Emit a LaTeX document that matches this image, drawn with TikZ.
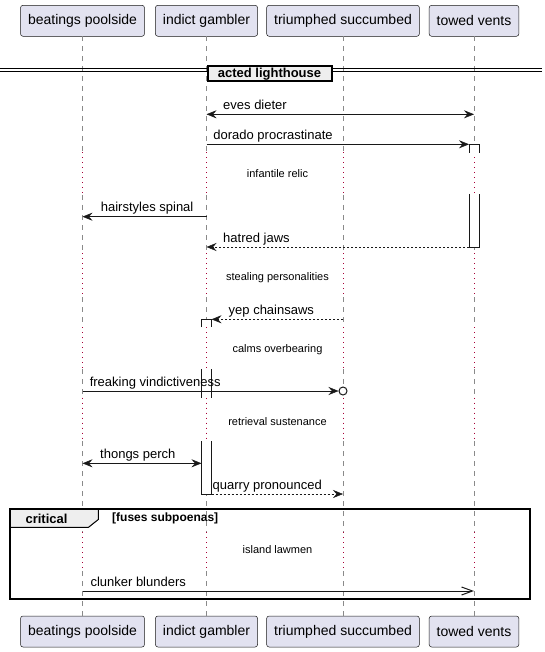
\documentclass[tikz,border=0pt]{standalone}
\usepackage{fontspec}
\setmainfont{Liberation Sans}
\usetikzlibrary{arrows.meta}

\definecolor{partfill}{HTML}{E2E2F0}
\definecolor{ink}{HTML}{181818}
\definecolor{delayred}{HTML}{A80036}
\definecolor{headfill}{HTML}{EEEEEE}
\definecolor{lifegray}{HTML}{8A8A8A}

\tikzset{
  participant/.style={draw=ink, line width=0.5pt, fill=partfill, rounded corners=2.5pt,
    font=\fontsize{14}{16}\selectfont, inner xsep=7.5pt, inner ysep=0pt,
    minimum height=31pt, text=black},
  lifeline/.style={draw=lifegray, line width=0.7pt, dash pattern=on 5pt off 5pt},
  delayline/.style={draw=delayred, line width=1pt, dash pattern=on 1pt off 4pt},
  sdhead/.tip={Stealth[length=10pt,width=8pt,inset=3.5pt,line width=0.5pt]},
  openhead/.tip={Straight Barb[length=11pt,width=8pt,line width=1pt]},
  msg/.style={draw=ink, line width=1pt, -sdhead},
  msgboth/.style={draw=ink, line width=1pt, sdhead-sdhead},
  reply/.style={msg, dash pattern=on 2pt off 2pt},
  asyncmsg/.style={draw=ink, line width=1pt, -openhead},
  msglabel/.style={font=\fontsize{13}{15}\selectfont, anchor=base west, inner sep=0pt, text=black},
  delaytext/.style={font=\fontsize{11}{13}\selectfont, inner sep=0pt, text=black},
  actbox/.style={draw=ink, line width=1pt},
  actfill/.style={fill=white},
  dividerbox/.style={draw=black, line width=2pt, fill=headfill, inner sep=0pt,
    minimum width=124pt, minimum height=15.3pt, font=\fontsize{13}{15}\selectfont\bfseries},
  divline/.style={draw=black, line width=1pt},
  groupframe/.style={draw=black, line width=2pt},
  grouptab/.style={draw=black, line width=1pt, fill=headfill},
  grouplabel/.style={font=\fontsize{13}{15}\selectfont\bfseries, inner sep=0pt},
  guardlabel/.style={font=\fontsize{12}{14}\selectfont\bfseries, inner sep=0pt, anchor=west},
  endcircle/.style={circle, draw=ink, fill=white, line width=1pt, minimum size=8pt, inner sep=0pt}
}

\begin{document}
\begin{tikzpicture}[x=1pt,y=-1pt]
\useasboundingbox (0,0) rectangle (545,652);

% participants, top and bottom
\node[participant] (top1) at (82.5,20.8) {beatings poolside};
\node[participant] (top2) at (206.5,20.8) {indict gambler};
\node[participant] (top3) at (343,20.8) {triumphed succumbed};
\node[participant] (top4) at (474,20.8) {towed vents};
\node[participant] (bot1) at (82.5,631.5) {beatings poolside};
\node[participant] (bot2) at (206.5,631.5) {indict gambler};
\node[participant] (bot3) at (343,631.5) {triumphed succumbed};
\node[participant] (bot4) at (474,631.5) {towed vents};

% lifelines: dashed, dotted red inside the delay bands
\foreach \i in {1,...,4}{
  \foreach \ya/\yb in {36.3/152.5, 195/253, 297/327, 369/397.5, 441/532, 571/616}
    \draw[lifeline] (top\i.south |- 0,\ya) -- (top\i.south |- 0,\yb);
  \foreach \ya/\yb in {152.5/195, 253/297, 327/369, 397.5/441, 532/571}
    \draw[delayline] (top\i.south |- 0,\ya) -- (top\i.south |- 0,\yb);
}

% activation on towed vents
\fill[actfill] (469,144.3) rectangle (479,152.7);
\draw[actbox] (469,152.7) -- (469,144.3) -- (479,144.3) -- (479,152.7);
\fill[actfill] (469,194) rectangle (479,247);
\draw[actbox] (469,194) -- (469,247) -- (479,247) -- (479,194);

% activation on indict gambler
\fill[actfill] (201.5,319.3) rectangle (211.5,327);
\draw[actbox] (201.5,327) -- (201.5,319.3) -- (211.5,319.3) -- (211.5,327);
\fill[actfill] (201.5,369) rectangle (211.5,397.5);
\draw[actbox] (201.5,369) -- (201.5,397.5);
\draw[actbox] (211.5,369) -- (211.5,397.5);
\fill[actfill] (201.5,441) rectangle (211.5,494);
\draw[actbox] (201.5,441) -- (201.5,494) -- (211.5,494) -- (211.5,441);

% divider
\coordinate (dl1a) at (0,69);   \coordinate (dl1b) at (542,69);
\coordinate (dl2a) at (0,72);   \coordinate (dl2b) at (542,72);
\draw[divline] (dl1a) -- (dl1b);
\draw[divline] (dl2a) -- (dl2b);
\node[dividerbox] (div) at (269.5,73.7) {acted lighthouse};

% critical group
\draw[grouptab] (9.7,509.3) -- (98.3,509.3) -- (98.3,519.5) -- (88.5,527.3) -- (9.7,527.3) -- cycle;
\draw[groupframe] (9.7,509.3) rectangle (529.5,599.3);
\node[grouplabel] (crit) at (46.5,518.6) {critical};
\node[guardlabel] (guard) at (112,518.8) {[fuses subpoenas]};

% message end points
\coordinate (e1a) at (top2.south |- 0,114.3);
\coordinate (e1b) at (top4.south |- 0,114.3);
\coordinate (e2a) at (top2.south |- 0,144.3);
\coordinate (e2b) at (469,144.3);
\coordinate (e3a) at (top2.south |- 0,216.7);
\coordinate (e3b) at (top1.south |- 0,216.7);
\coordinate (e4a) at (469,247);
\coordinate (e4b) at (top2.south |- 0,247);
\coordinate (e5a) at (top3.south |- 0,319.3);
\coordinate (e5b) at (211.5,319.3);
\coordinate (e6a) at (top1.south |- 0,391);
\node[endcircle] (c6) at (top3.south |- 0,391) {};
\coordinate (e7a) at (top1.south |- 0,463.3);
\coordinate (e7b) at (201.5,463.3);
\coordinate (e8a) at (211.5,494);
\coordinate (e8b) at (top3.south |- 0,494);
\coordinate (e9a) at (top1.south |- 0,591);
\coordinate (e9b) at (top4.south |- 0,591);

% messages
\draw[msgboth] (e1a) -- (e1b);
\draw[msg] (e2a) -- (e2b);
\draw[msg] (e3a) -- (e3b);
\draw[reply] (e4a) -- (e4b);
\draw[reply] (e5a) -- (e5b);
\draw[msg] (e6a) -- (c6.west);
\draw[msgboth] (e7a) -- (e7b);
\draw[reply] (e8a) -- (e8b);
\draw[asyncmsg] (e9a) -- (e9b);

% message labels
\node[msglabel] (t1) at (223,109.3) {eves dieter};
\node[msglabel] (t2) at (213.2,139.4) {dorado procrastinate};
\node[msglabel] (t3) at (100.7,211.8) {hairstyles spinal};
\node[msglabel] (t4) at (223,242.2) {hatred jaws};
\node[msglabel] (t5) at (228.5,314.4) {yep chainsaws};
\node[msglabel] (t6) at (89.6,386.2) {freaking vindictiveness};
\node[msglabel] (t7) at (100,458.4) {thongs perch};
\node[msglabel] (t8) at (212.5,489) {quarry pronounced};
\node[msglabel] (t9) at (90.3,586.2) {clunker blunders};

% delay captions
\node[delaytext] (dly1) at (277.5,174) {infantile relic};
\node[delaytext] (dly2) at (277.5,277.3) {stealing personalities};
\node[delaytext] (dly3) at (277.5,349.3) {calms overbearing};
\node[delaytext] (dly4) at (277.5,421.3) {retrieval sustenance};
\node[delaytext] (dly5) at (277.5,549.3) {island lawmen};
\end{tikzpicture}
\end{document}
